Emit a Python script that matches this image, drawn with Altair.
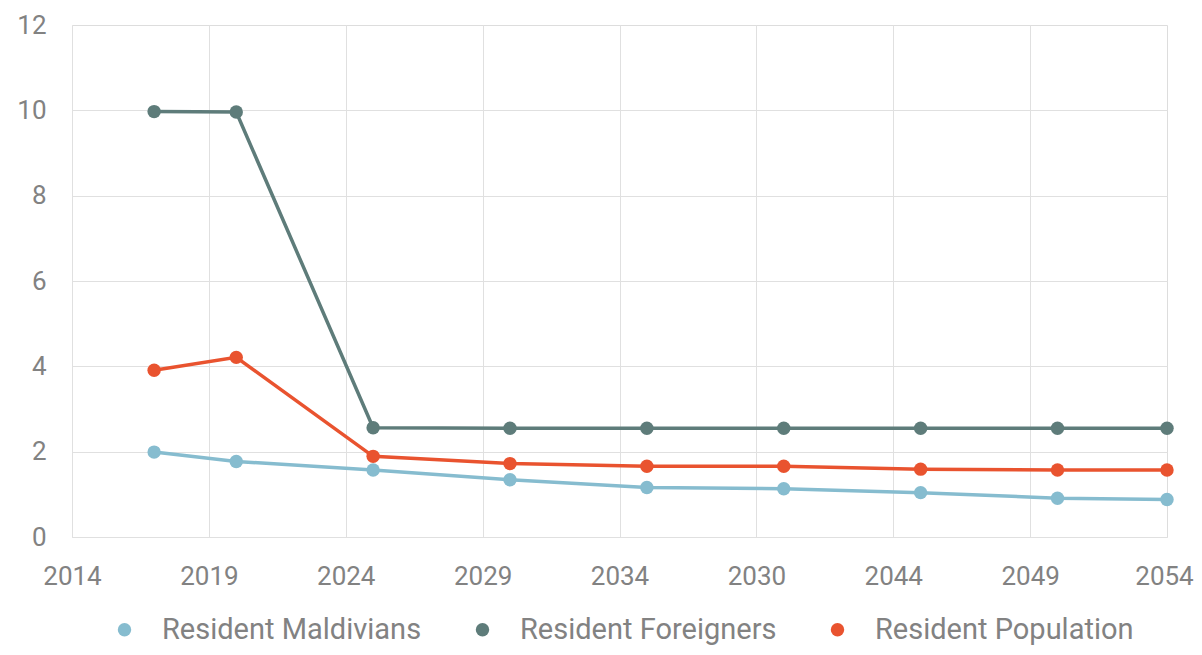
import altair as alt
import pandas as pd

years = [2017, 2020, 2025, 2030, 2035, 2040, 2045, 2050, 2054]
series_names = ["Resident Maldivians", "Resident Foreigners", "Resident Population"]
maldivians = [1.99, 1.77, 1.57, 1.34, 1.16, 1.13, 1.04, 0.91, 0.88]
foreigners = [9.97, 9.96, 2.56, 2.55, 2.55, 2.55, 2.55, 2.55, 2.55]
population = [3.91, 4.21, 1.89, 1.72, 1.66, 1.66, 1.59, 1.57, 1.57]
colors = ["#86bccf", "#5e7c7a", "#e9532f"]

x_tick_values = [2014, 2019, 2024, 2029, 2034, 2039, 2044, 2049, 2054]
x_tick_labels = ["2014", "2019", "2024", "2029", "2034", "2030", "2044", "2049", "2054"]
y_tick_values = [0, 2, 4, 6, 8, 10, 12]

rows = []
for name, vals in zip(series_names, [maldivians, foreigners, population]):
    for yr, v in zip(years, vals):
        rows.append({"year": yr, "value": v, "series": name})
df = pd.DataFrame(rows)

label_expr = "[{}][indexof([{}], datum.value)]".format(
    ",".join("'" + s + "'" for s in x_tick_labels),
    ",".join(str(v) for v in x_tick_values),
)

FONT = "Roboto"
TEXT = "#828282"
GRID = "#e0e0e0"

x_enc = alt.X(
    "year:Q",
    scale=alt.Scale(domain=[2014, 2054], nice=False, zero=False),
    axis=alt.Axis(
        values=x_tick_values,
        labelExpr=label_expr,
        title=None,
        ticks=False,
        domain=True,
        domainColor=GRID,
        grid=True,
        gridColor={"condition": {"test": "datum.value >= 2054", "value": "transparent"}, "value": GRID},
        labelFontSize=26,
        labelColor=TEXT,
        labelFont=FONT,
        labelPadding=26,
        labelOffset={"condition": {"test": "datum.value >= 2054", "value": -3}, "value": 0},
        labelFlush=False,
    ),
)
y_enc = alt.Y(
    "value:Q",
    scale=alt.Scale(domain=[0, 12], nice=False),
    axis=alt.Axis(
        values=y_tick_values,
        title=None,
        ticks=False,
        domain=False,
        grid=True,
        gridColor={"condition": {"test": "datum.value >= 12 || datum.value <= 0", "value": "transparent"}, "value": GRID},
        labelFontSize=26,
        labelColor=TEXT,
        labelFont=FONT,
        labelPadding=26,
        labelBaseline="middle",
    ),
)
color_scale = alt.Scale(domain=series_names, range=colors)
legend = alt.Legend(
    orient="none",
    legendX=38,
    legendY=590,
    direction="horizontal",
    symbolType="circle",
    symbolSize=180,
    symbolOpacity=1,
    symbolStrokeWidth=0,
    labelFontSize=29,
    labelFont=FONT,
    labelColor=TEXT,
    labelOffset=23,
    labelLimit=500,
    columnPadding=46,
    padding=0,
)
color_enc = alt.Color("series:N", scale=color_scale, sort=series_names, title=None, legend=legend)

base = alt.Chart(df)
lines = base.mark_line(strokeWidth=3.5).encode(x=x_enc, y=y_enc, color=color_enc)
points = base.mark_point(filled=True, size=180, opacity=1, shape="circle").encode(
    x=x_enc, y=y_enc, color=color_enc
)

chart = (
    alt.layer(lines, points)
    .properties(
        width=1095,
        height=512,
        autosize=alt.AutoSizeParams(type="none"),
        padding={"left": 64, "top": 17, "right": 27, "bottom": 110},
    )
    .configure_view(stroke=None)
    .configure(font=FONT)
)

chart.save("out.html", embed_options={"renderer": "svg", "actions": False})
